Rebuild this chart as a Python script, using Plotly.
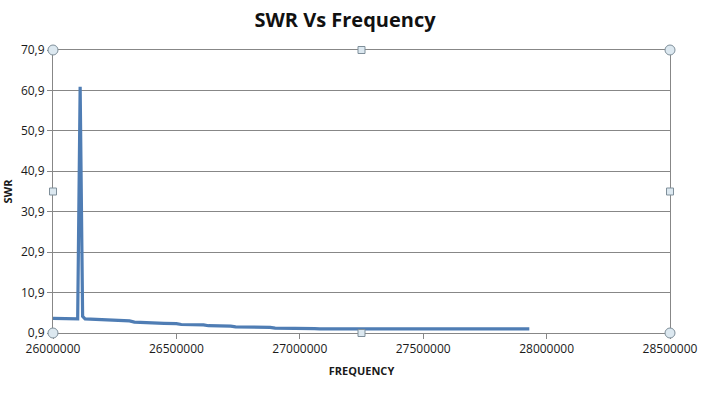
import plotly.graph_objects as go

# Data
frequency = [26000000, 26090000, 26100000, 26110000, 26120000, 26130000,
             26220000, 26240000, 26310000, 26330000, 26430000, 26450000,
             26500000, 26520000, 26610000, 26630000, 26720000, 26740000,
             26880000, 26900000, 27060000, 27080000, 27930000]
swr = [4.5, 4.4, 4.4, 61.8, 5.0, 4.4,
       4.2, 4.0, 3.9, 3.6, 3.5, 3.3,
       3.2, 3.0, 2.9, 2.7, 2.6, 2.4,
       2.3, 2.1, 2.0, 1.9, 1.9]

y_tickvals = [0.9, 10.9, 20.9, 30.9, 40.9, 50.9, 60.9, 70.9]
y_ticktext = ["0,9", "10,9", "20,9", "30,9", "40,9", "50,9", "60,9", "70,9"]
x_tickvals = [26000000, 26500000, 27000000, 27500000, 28000000, 28500000]
x_ticktext = ["26000000", "26500000", "27000000", "27500000", "28000000", "28500000"]

FONT = "Open Sans, Lato, DejaVu Sans, sans-serif"
GRID = "#878787"

fig = go.Figure()
fig.add_trace(go.Scatter(x=frequency, y=swr, mode="lines",
                         line=dict(color="#4F7DB4", width=3.2),
                         showlegend=False, hoverinfo="skip"))

# Selection handles (Excel chart-area style)
shapes = []
def circle(px, py):
    shapes.append(dict(type="circle", xref="paper", yref="paper",
                       xsizemode="pixel", ysizemode="pixel",
                       xanchor=px, yanchor=py, x0=-5, x1=5, y0=-5, y1=5,
                       fillcolor="#DCE8F0", line=dict(color="#7F8F9A", width=1)))
def square(px, py):
    shapes.append(dict(type="rect", xref="paper", yref="paper",
                       xsizemode="pixel", ysizemode="pixel",
                       xanchor=px, yanchor=py, x0=-3.5, x1=3.5, y0=-3.5, y1=3.5,
                       fillcolor="#DCE8F0", line=dict(color="#7F8F9A", width=1)))
for px in (0, 1):
    for py in (0, 1):
        circle(px, py)
square(0.5, 1); square(0.5, 0); square(0, 0.5); square(1, 0.5)

fig.update_layout(
    width=715, height=396,
    margin=dict(l=53, r=45, t=50, b=63, autoexpand=False),
    paper_bgcolor="white", plot_bgcolor="white",
    font=dict(family=FONT, color="#1a1a1a", size=12),
    title=dict(text="<b>SWR Vs Frequency</b>", x=345/715, xanchor="center",
               xref="container", yref="container",
               y=1 - 20/396, yanchor="middle", font=dict(size=20, color="#111")),
    shapes=shapes,
    xaxis=dict(range=[26000000, 28500000], tickvals=x_tickvals, ticktext=x_ticktext,
               automargin=False,
               showgrid=False, zeroline=False, showline=True, linecolor=GRID,
               linewidth=1, mirror=True, ticks="outside", ticklen=5, tickcolor=GRID,
               tickfont=dict(size=12),
               title=dict(text="<b>FREQUENCY</b>", font=dict(size=11), standoff=10)),
    yaxis=dict(range=[0.9, 70.9], tickvals=y_tickvals, ticktext=y_ticktext,
               automargin=False,
               showgrid=True, gridcolor=GRID, gridwidth=1, zeroline=False,
               showline=True, linecolor=GRID, linewidth=1, mirror=True,
               ticks="outside", ticklen=5, tickcolor=GRID, tickfont=dict(size=12),
               title=dict(text="<b>SWR</b>", font=dict(size=11), standoff=6)),
)

fig.write_html("out.html", config={"displayModeBar": False},
               post_script="document.body.style.margin='0';document.body.style.padding='0';")
